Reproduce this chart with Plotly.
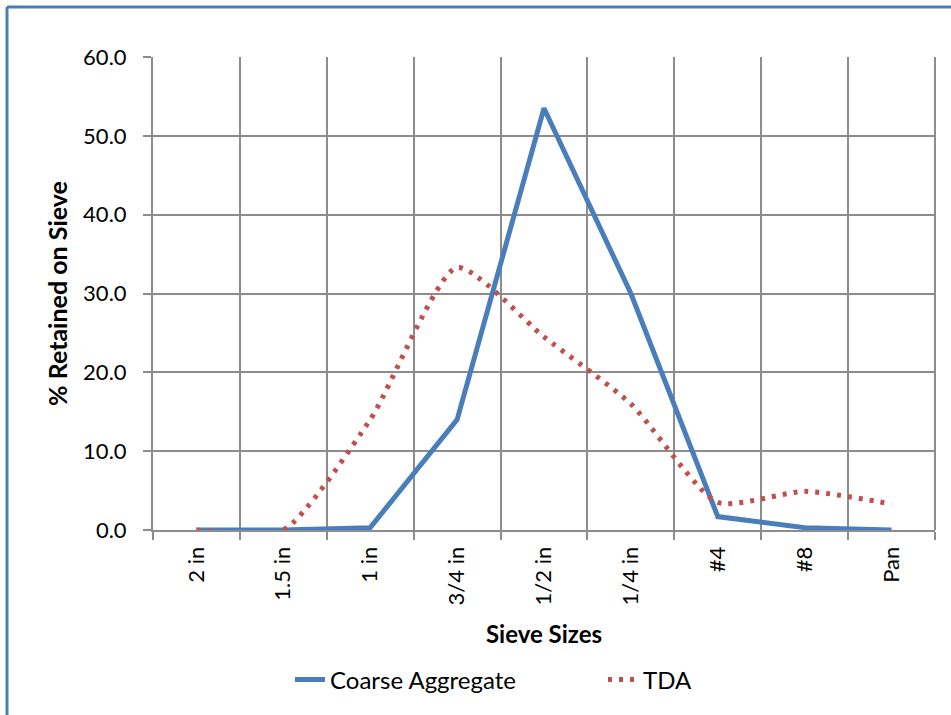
import plotly.graph_objects as go

categories = ["2 in", "1.5 in", "1 in", "3/4 in", "1/2 in", "1/4 in", "#4", "#8", "Pan"]
coarse = [0.0, 0.0, 0.3, 14.0, 53.5, 30.0, 1.7, 0.3, 0.0]
tda = [0.0, 0.0, 14.0, 33.3, 24.5, 16.0, 3.5, 4.9, 3.3]
y_ticks = [0, 10, 20, 30, 40, 50, 60]
y_tick_labels = ["0.0", "10.0", "20.0", "30.0", "40.0", "50.0", "60.0"]

FONT = "Lato"
GRID = "#8c8c8c"

fig = go.Figure()
fig.add_trace(go.Scatter(
    x=categories, y=coarse, mode="lines", name="Coarse Aggregate",
    line=dict(color="#4a7ebb", width=5),
))
fig.add_trace(go.Scatter(
    x=categories, y=tda, mode="lines", name="TDA",
    line=dict(color="#c0504d", width=5, dash="4px,7px", shape="spline", smoothing=0.6),
))

fig.update_layout(
    width=951, height=715,
    margin=dict(l=153, r=16, t=57, b=185, autoexpand=False),
    paper_bgcolor="white", plot_bgcolor="white",
    font=dict(family=FONT, size=22, color="#000000"),
    showlegend=True,
    legend=dict(orientation="h", x=(290 - 153) / 782, xanchor="left", yref="container",
                y=(715 - 680) / 715, yanchor="middle", entrywidth=268,
                font=dict(size=24, family=FONT), traceorder="normal"),
    xaxis=dict(
        type="category", tickson="boundaries", showgrid=True, gridcolor=GRID, gridwidth=2,
        showline=True, linecolor=GRID, linewidth=2, mirror=False, automargin=False,
        ticks="outside", ticklen=8, tickcolor=GRID, tickwidth=2, ticklabelstandoff=6,
        tickangle=-90, tickfont=dict(size=22, family=FONT),
        title=dict(text="<b>Sieve Sizes</b>", font=dict(size=24, family=FONT), standoff=22),
        range=[-0.5, 8.5],
    ),
    yaxis=dict(
        range=[0, 60], tickvals=y_ticks, ticktext=y_tick_labels, automargin=False,
        showgrid=True, gridcolor=GRID, gridwidth=2, zeroline=False,
        showline=True, linecolor=GRID, linewidth=2,
        ticks="outside", ticklen=8, tickcolor=GRID, tickwidth=2, ticklabelstandoff=12,
        tickfont=dict(size=22, family=FONT),
        title=dict(text="<b>% Retained on Sieve</b>", font=dict(size=25, family=FONT), standoff=8),
    ),
    shapes=[
        dict(type="line", xref="paper", yref="paper", x0=1, x1=1, y0=0, y1=1,
             line=dict(color=GRID, width=2)),
        dict(type="line", xref="paper", yref="paper",
             x0=(7 - 153) / 782, x1=(7 - 153) / 782, y0=(530 - 7) / 473, y1=-0.5,
             line=dict(color="#4a7ebb", width=3)),
        dict(type="line", xref="paper", yref="paper",
             x0=(7 - 153) / 782, x1=1.1, y0=(530 - 7) / 473, y1=(530 - 7) / 473,
             line=dict(color="#4a7ebb", width=3)),
    ],
)

fig.write_html("out.html")
